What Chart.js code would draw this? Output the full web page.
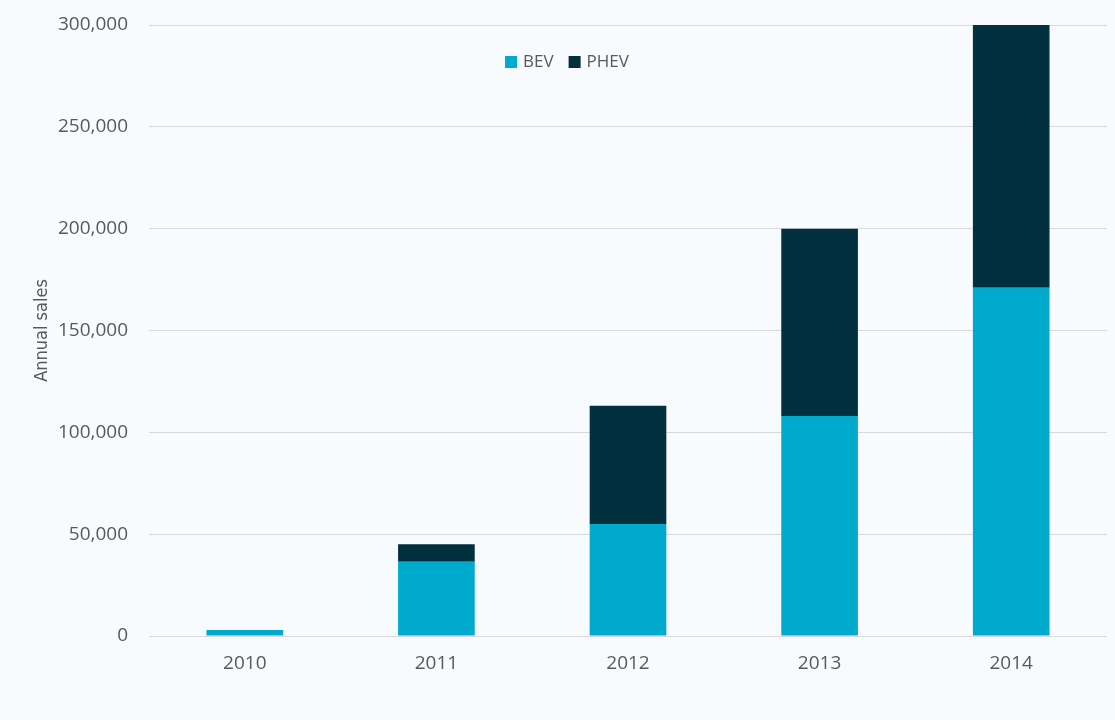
<!DOCTYPE html>
<html>
<head>
<meta charset="utf-8">
<script src="https://cdn.jsdelivr.net/npm/chart.js@4"></script>
<style>
  html, body { margin: 0; padding: 0; background: #f7fbfd; }
  #wrap { width: 1115px; height: 720px; position: relative; }
</style>
</head>
<body>
<div id="wrap"><canvas id="c" width="1115" height="720"></canvas></div>
<script>
const categories = ['2010', '2011', '2012', '2013', '2014'];
const bevSales = [3000, 36500, 55000, 108000, 171000];
const phevSales = [0, 8500, 58000, 92000, 129000];
const yTicks = [0, 50000, 100000, 150000, 200000, 250000, 300000];
const seriesNames = ['BEV', 'PHEV'];

// Legend drawn inside the plot area, using the datasets' labels and colours
const insideLegend = {
  id: 'insideLegend',
  afterDraw(chart, args, opts) {
    const ctx = chart.ctx;
    const box = 12, gapText = 6, gapItem = 15;
    ctx.save();
    ctx.font = '17px "Open Sans"';
    ctx.textBaseline = 'middle';
    ctx.textAlign = 'left';
    const items = chart.data.datasets.map(d => ({ label: d.label, color: d.backgroundColor, w: ctx.measureText(d.label).width }));
    let total = 0;
    items.forEach((it, i) => { total += box + gapText + it.w + (i ? gapItem : 0); });
    let x = opts.centerX - total / 2;
    const y = opts.top;
    items.forEach(it => {
      ctx.fillStyle = it.color;
      ctx.fillRect(x, y, box, box);
      ctx.fillStyle = '#595959';
      ctx.fillText(it.label, x + box + gapText, y + box / 2 + 0.5);
      x += box + gapText + it.w + gapItem;
    });
    ctx.restore();
  }
};

new Chart(document.getElementById('c'), {
  type: 'bar',
  data: {
    labels: categories,
    datasets: [
      { label: seriesNames[0], data: bevSales, backgroundColor: '#00AACD', borderWidth: 0 },
      { label: seriesNames[1], data: phevSales, backgroundColor: '#02303E', borderWidth: 0 }
    ]
  },
  options: {
    responsive: false,
    animation: false,
    devicePixelRatio: 1,
    layout: { padding: { left: 0, right: 8, top: 25, bottom: 0 } },
    datasets: { bar: { categoryPercentage: 1.0, barPercentage: 0.40 } },
    plugins: {
      tooltip: { enabled: false },
      legend: { display: false },
      insideLegend: { centerX: 567, top: 56 }
    },
    scales: {
      x: {
        stacked: true,
        grid: { display: false },
        border: { display: false },
        ticks: { color: '#595959', font: { family: 'Open Sans', size: 19 }, padding: 8 },
        afterFit(s) { s.height = 84; s.paddingLeft = 0; s.paddingRight = 0; }
      },
      y: {
        stacked: true,
        min: 0,
        max: 300000,
        afterBuildTicks(s) { s.ticks = yTicks.map(v => ({ value: v })); },
        grid: { color: '#d9d9d9', lineWidth: 1, drawTicks: false },
        border: { display: false },
        ticks: {
          color: '#595959',
          font: { family: 'Open Sans', size: 19 },
          padding: 21,
          callback: v => v.toLocaleString('en-US')
        },
        title: {
          display: true,
          text: 'Annual sales',
          color: '#595959',
          font: { family: "'DejaVu Sans Condensed', 'Open Sans', sans-serif", size: 18 },
          padding: { top: 32, bottom: 0 }
        },
        afterFit(s) { s.width = 149; s.paddingTop = 0; s.paddingBottom = 0; }
      }
    }
  },
  plugins: [insideLegend]
});
</script>
</body>
</html>
